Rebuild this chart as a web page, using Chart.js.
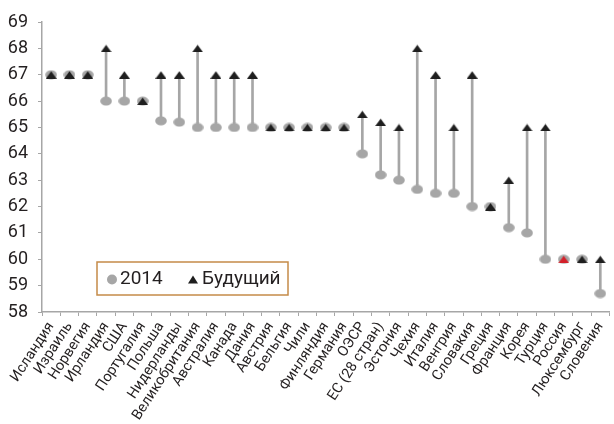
<!DOCTYPE html>
<html>
<head>
<meta charset="utf-8">
<script src="https://cdn.jsdelivr.net/npm/chart.js@4/dist/chart.umd.min.js"></script>
<style>
  html, body { margin: 0; padding: 0; background: #fff; overflow: hidden; }
  #wrap { position: relative; width: 618px; height: 424px; }
</style>
</head>
<body>
<div id="wrap"><canvas id="c"></canvas></div>
<script>
// Retirement age by country: 2014 and future (legislated)
const countries = ['Исландия','Израиль','Норвегия','Ирландия','США','Португалия','Польша','Нидерланды',
  'Великобритания','Австралия','Канада','Дания','Австрия','Бельгия','Чили','Финляндия','Германия','ОЭСР',
  'ЕС (28 стран)','Эстония','Чехия','Италия','Венгрия','Словакия','Греция','Франция','Корея','Турция',
  'Россия','Люксембург','Словения'];
const age2014 = [67,67,67,66,66,66,65.25,65.2,65,65,65,65,65,65,65,65,65,64,63.2,63,62.65,62.5,62.5,62,62,61.2,61,60,60,60,58.7];
const ageFuture = [67,67,67,68,67,66,67,67,68,67,67,67,65,65,65,65,65,65.5,65.2,65,68,67,65,67,62,63,65,65,60,60,60];
const highlighted = ['Россия'];
const yTicks = [58,59,60,61,62,63,64,65,66,67,68,69];
const seriesNames = ['2014', 'Будущий'];

const GREY = '#a6a6a6';
const DARK = '#1e1e1e';
const RED = '#d3202a';
const TEXT = '#231f20';
const FONT = "Roboto, 'Liberation Sans', sans-serif";

function makeTriangle(color) {
  const c = document.createElement('canvas');
  c.width = 11; c.height = 8;
  const g = c.getContext('2d');
  g.fillStyle = color;
  g.beginPath();
  g.moveTo(0, 8); g.lineTo(5.5, 0.5); g.lineTo(11, 8); g.closePath();
  g.fill();
  return c;
}
function makeDot(color) {
  const c = document.createElement('canvas');
  c.width = 12; c.height = 10;
  const g = c.getContext('2d');
  g.fillStyle = color;
  g.beginPath();
  g.ellipse(6, 5, 5.8, 4.6, 0, 0, Math.PI * 2);
  g.fill();
  return c;
}
const triBlack = makeTriangle(DARK);
const triRed = makeTriangle(RED);
const dot = makeDot(GREY);

// Legend box drawn inside the plot area
const legendBox = {
  id: 'legendBox',
  afterDraw(chart) {
    const ctx = chart.ctx;
    const a = chart.chartArea;
    const x = a.left + 55, y = a.bottom - 50, w = 191, h = 33;
    ctx.save();
    ctx.fillStyle = '#fff';
    ctx.fillRect(x, y, w, h);
    ctx.strokeStyle = '#c58b48';
    ctx.lineWidth = 1.5;
    ctx.strokeRect(x, y, w, h);
    const cy = y + h / 2;
    ctx.fillStyle = GREY;
    ctx.beginPath();
    ctx.ellipse(x + 15, cy + 1, 5, 5, 0, 0, Math.PI * 2);
    ctx.fill();
    ctx.font = '19px ' + FONT;
    ctx.fillStyle = TEXT;
    ctx.textBaseline = 'middle';
    ctx.fillText(seriesNames[0], x + 23, cy + 1);
    ctx.fillStyle = DARK;
    ctx.beginPath();
    ctx.moveTo(x + 91, cy + 5); ctx.lineTo(x + 96, cy - 3); ctx.lineTo(x + 101, cy + 5); ctx.closePath();
    ctx.fill();
    ctx.fillStyle = TEXT;
    ctx.fillText(seriesNames[1], x + 105, cy + 1);
    ctx.restore();
  }
};

new Chart(document.getElementById('c'), {
  type: 'bar',
  data: {
    labels: countries,
    datasets: [
      {
        label: 'range',
        data: age2014.map((v, i) => v === ageFuture[i] ? null : [v, ageFuture[i]]),
        backgroundColor: GREY,
        borderWidth: 0,
        barThickness: 2,
        order: 3
      },
      {
        type: 'line',
        label: seriesNames[0],
        data: age2014,
        showLine: false,
        pointStyle: dot,
        pointRadius: 5,
        order: 2
      },
      {
        type: 'line',
        label: seriesNames[1],
        data: ageFuture,
        showLine: false,
        pointStyle: ctx => highlighted.includes(countries[ctx.dataIndex]) ? triRed : triBlack,
        pointRadius: 5,
        order: 1
      }
    ]
  },
  options: {
    responsive: true,
    maintainAspectRatio: false,
    animation: false,
    layout: { padding: { top: 22, right: 0, left: 0, bottom: 0 } },
    plugins: { legend: { display: false }, tooltip: { enabled: false } },
    scales: {
      x: {
        offset: true,
        grid: { display: true, drawOnChartArea: false, offset: true, tickLength: 4, color: GREY, lineWidth: 1 },
        border: { display: true, color: GREY, width: 1.5 },
        ticks: {
          autoSkip: false, maxRotation: 57, minRotation: 57, padding: 3,
          color: TEXT, font: { family: FONT, size: 14.5 }
        },
        afterFit(scale) { scale.height = 112; }
      },
      y: {
        min: 58, max: 69,
        afterBuildTicks(scale) { scale.ticks = yTicks.map(v => ({ value: v })); },
        grid: { display: true, drawOnChartArea: false, tickLength: 4, color: GREY, lineWidth: 1 },
        border: { display: true, color: GREY, width: 1.5 },
        ticks: { padding: 10, color: TEXT, font: { family: FONT, size: 18 } },
        afterFit(scale) { scale.width = 42; }
      }
    }
  },
  plugins: [legendBox]
});
</script>
</body>
</html>
